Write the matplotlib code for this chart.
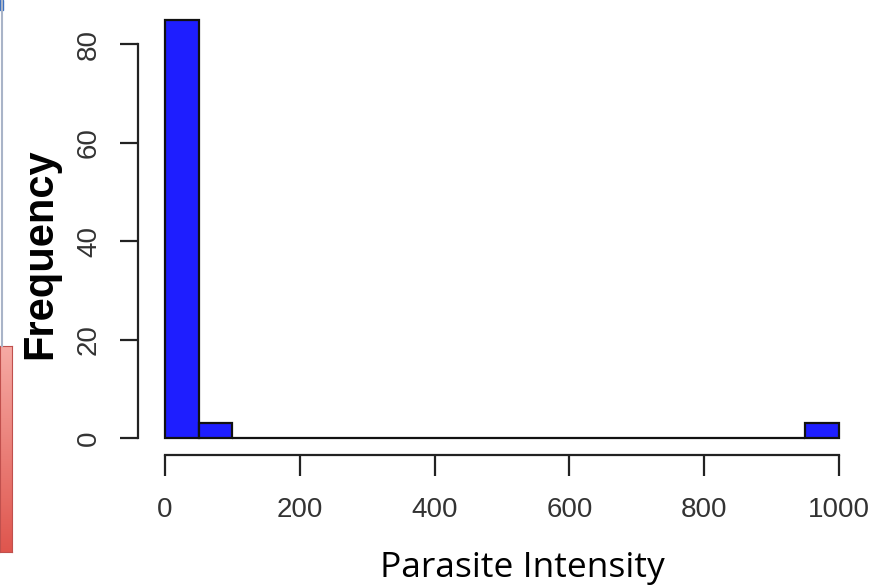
import numpy as np
import matplotlib
matplotlib.use('Agg')
import matplotlib.pyplot as plt
from matplotlib.colors import LinearSegmentedColormap

# histogram of parasite intensity, bins of 50
bin_edges = list(range(0, 1001, 50))
counts = [85, 3, 0, 0, 0, 0, 0, 0, 0, 0,
          0, 0, 0, 0, 0, 0, 0, 0, 0, 3]
x_ticks = [0, 200, 400, 600, 800, 1000]
y_ticks = [0, 20, 40, 60, 80]
x_title = 'Parasite Intensity'
y_title = 'Frequency'

W, H = 893, 587
fig = plt.figure(figsize=(W / 100, H / 100), dpi=100)
fig.patch.set_facecolor('white')

# plot region in pixels (R style, 4% padding)
left, right, top, bottom = 138, 866, 3, 455
ax = fig.add_axes([left / W, (H - bottom) / H, (right - left) / W, (bottom - top) / H])

lefts = np.array(bin_edges[:-1])
widths = np.diff(bin_edges)
ax.bar(lefts, counts, width=widths, align='edge', color='#1e1eff',
       edgecolor='#111111', linewidth=1.6)

ax.set_xlim(-40, 1040)
ax.set_ylim(-3.4, 88.4)

for s in ['top', 'right']:
    ax.spines[s].set_visible(False)
ax.spines['left'].set_bounds(0, 80)
ax.spines['bottom'].set_bounds(0, 1000)
for s in ['left', 'bottom']:
    ax.spines[s].set_linewidth(1.6)
    ax.spines[s].set_color('#222222')

ax.set_xticks(x_ticks)
ax.set_yticks(y_ticks)
ax.tick_params(axis='x', length=15, width=1.6, color='#222222', pad=15,
               labelsize=20, labelcolor='#333333')
ax.tick_params(axis='y', length=13, width=1.6, color='#222222', pad=13,
               labelsize=20, labelcolor='#333333', labelrotation=90)
for lab in ax.get_xticklabels() + ax.get_yticklabels():
    lab.set_family('Liberation Sans')
for lab in ax.get_yticklabels():
    lab.set_va('center')

# axis titles
fig.text(40 / W, (H - 254) / H, y_title, rotation=90, ha='center', va='center',
         fontsize=30, fontweight='bold', family='Liberation Sans', color='black')
fig.text(522 / W, (H - 577) / H, x_title, ha='center', va='baseline',
         fontsize=25.5, family='Open Sans', color='black')

# slide leftovers on the left edge
fig.add_artist(plt.Line2D([1.5 / W, 1.5 / W], [(H - 346) / H, 1], color='#a9b4c8',
                          linewidth=1.5))
fig.add_artist(plt.Rectangle((0, (H - 10) / H), 3 / W, 10 / H, color='#3a6fc0'))
red = LinearSegmentedColormap.from_list('red', ['#f6aaa4', '#df564e'])
rax = fig.add_axes([0, (H - 552) / H, 12 / W, (552 - 346) / H])
rax.imshow(np.linspace(0, 1, 100).reshape(-1, 1), cmap=red, aspect='auto')
rax.set_xticks([])
rax.set_yticks([])
for s in rax.spines.values():
    s.set_color('#c0504d')

fig.savefig('out.png', dpi=100)
